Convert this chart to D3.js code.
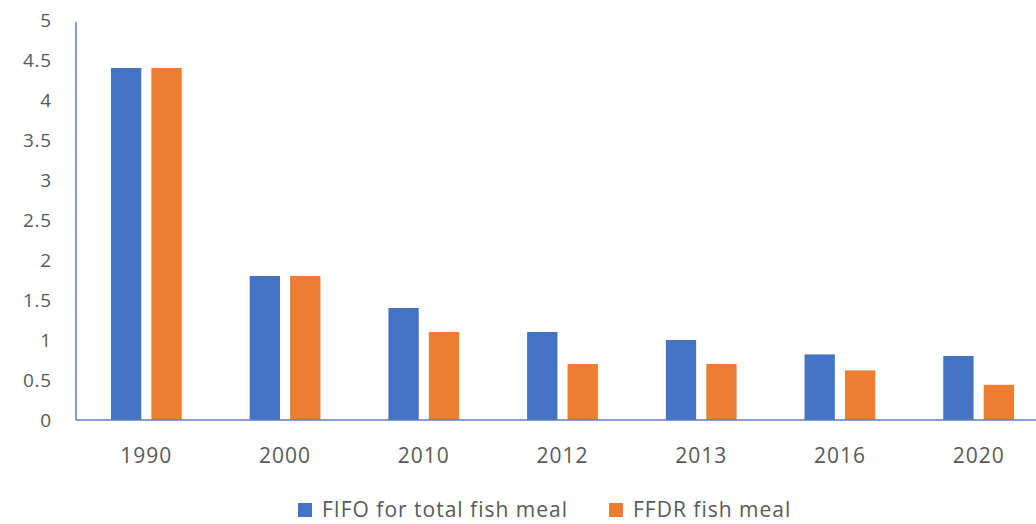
<!DOCTYPE html>
<html>
<head>
<meta charset="utf-8">
<script src="https://cdn.jsdelivr.net/npm/d3@7"></script>
<style>
  body { margin: 0; background: #fff; }
  text { font-family: "Open Sans", "Noto Sans", sans-serif; fill: #595959; }
</style>
</head>
<body>
<svg id="chart" width="1036" height="524"></svg>
<script>
(function () {
    // values
    var years = ["1990", "2000", "2010", "2012", "2013", "2016", "2020"];
    var fifo = [4.4, 1.8, 1.4, 1.1, 1.0, 0.82, 0.8];
    var ffdr = [4.4, 1.8, 1.1, 0.7, 0.7, 0.62, 0.44];
    var seriesNames = ["FIFO for total fish meal", "FFDR fish meal"];
    var yTicks = [0, 0.5, 1, 1.5, 2, 2.5, 3, 3.5, 4, 4.5, 5];

    var colors = ["#4472C4", "#ED7D31"];
    var left = 77, right = 1048, top = 20, bottom = 420;

    var data = years.map(function (y, i) {
        return { year: y, values: [fifo[i], ffdr[i]] };
    });

    var svg = d3.select("#chart");

    var x0 = d3.scaleBand()
        .domain(years)
        .range([left, right])
        .paddingInner(0.49)
        .paddingOuter(0.245);

    var x1 = d3.scaleBand()
        .domain([0, 1])
        .range([0, x0.bandwidth()])
        .paddingInner(0.25);

    var y = d3.scaleLinear()
        .domain([0, 5])
        .range([bottom, top]);

    // bars
    svg.append("g")
        .selectAll("g")
        .data(data)
        .join("g")
        .attr("transform", function (d) { return "translate(" + x0(d.year) + ",0)"; })
        .selectAll("rect")
        .data(function (d) { return d.values.map(function (v, k) { return { k: k, v: v }; }); })
        .join("rect")
        .attr("x", function (d) { return x1(d.k); })
        .attr("width", x1.bandwidth())
        .attr("y", function (d) { return y(d.v); })
        .attr("height", function (d) { return y(0) - y(d.v); })
        .attr("fill", function (d) { return colors[d.k]; });

    // y axis
    var yAxis = svg.append("g")
        .attr("transform", "translate(76,0)")
        .call(d3.axisLeft(y).tickValues(yTicks).tickSize(0).tickPadding(24)
            .tickFormat(function (d) { return d; }));
    yAxis.select(".domain").attr("stroke", "#5B7EC2").attr("stroke-width", 1.5)
        .attr("d", "M0," + (top + 2) + "V" + bottom);
    yAxis.selectAll("text").attr("font-size", 19).style("fill", "#595959")
        .style("letter-spacing", "0.8px")
        .attr("font-family", null);

    // x axis
    var xAxis = svg.append("g")
        .attr("transform", "translate(0," + bottom + ")")
        .call(d3.axisBottom(x0).tickSize(0).tickPadding(28));
    xAxis.select(".domain").attr("stroke", "#5B7EC2").attr("stroke-width", 1.5)
        .attr("d", "M76,0H1036");
    xAxis.selectAll("text").attr("font-size", 21).style("fill", "#595959")
        .style("letter-spacing", "1px")
        .attr("font-family", null);

    // legend
    var legendX = [298, 609];
    var legend = svg.append("g")
        .selectAll("g")
        .data(seriesNames)
        .join("g")
        .attr("transform", function (d, i) { return "translate(" + legendX[i] + ",503)"; });
    legend.append("rect")
        .attr("width", 14).attr("height", 14)
        .attr("fill", function (d, i) { return colors[i]; });
    legend.append("text")
        .attr("x", 24).attr("y", 14)
        .attr("font-size", 21)
        .style("letter-spacing", "1px")
        .text(function (d) { return d; });
})();
</script>
</body>
</html>
